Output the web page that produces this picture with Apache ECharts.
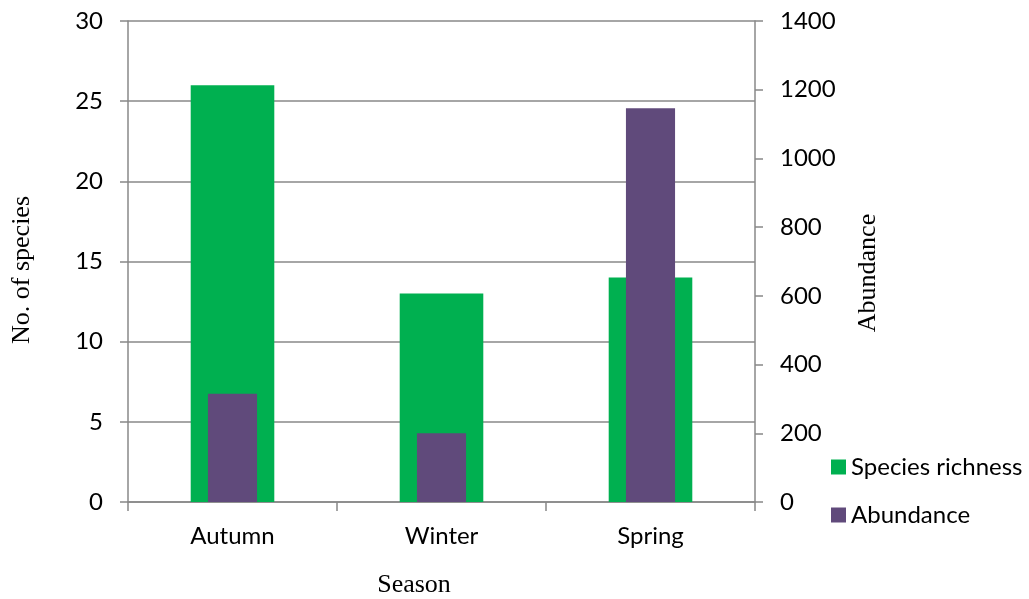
<!DOCTYPE html>
<html>
<head>
<meta charset="utf-8">
<script src="https://cdn.jsdelivr.net/npm/echarts@6/dist/echarts.min.js"></script>
<style>
  html, body { margin: 0; padding: 0; background: #fff; }
  #chart { width: 1029px; height: 599px; }
</style>
</head>
<body>
<div id="chart"></div>
<script>
// Seasonal species richness and abundance
const seasons = ['Autumn', 'Winter', 'Spring'];
const speciesRichness = [26, 13, 14];
const abundance = [315, 200, 1146];

const axisGray = '#888888';
const tickFont = { fontFamily: 'Lato', fontSize: 24, color: '#000' };
const titleFont = 'Liberation Serif';

const chart = echarts.init(document.getElementById('chart'), null, { renderer: 'canvas' });

chart.setOption({
  animation: false,
  backgroundColor: '#fff',
  grid: { left: 128, right: 274, top: 21, bottom: 97, containLabel: false },
  legend: {
    orient: 'vertical',
    left: 831,
    top: 455,
    padding: 0,
    icon: 'rect',
    itemWidth: 15,
    itemHeight: 15,
    itemGap: 24,
    textStyle: { fontFamily: 'Lato', fontSize: 24, color: '#000' },
    data: ['Species richness', 'Abundance']
  },
  xAxis: [
    {
      type: 'category',
      data: seasons,
      axisLine: { lineStyle: { color: axisGray, width: 1.5 } },
      axisTick: { show: true, length: 9, lineStyle: { color: axisGray, width: 1.5 } },
      axisLabel: Object.assign({ margin: 22 }, tickFont),
      splitLine: { show: false }
    },
    {
      type: 'category',
      data: seasons,
      position: 'bottom',
      show: false
    }
  ],
  yAxis: [
    {
      type: 'value',
      min: 0,
      max: 30,
      interval: 5,
      position: 'left',
      axisLine: { show: true, lineStyle: { color: axisGray, width: 1.5 } },
      axisTick: { show: true, length: 8, lineStyle: { color: axisGray, width: 1.5 } },
      axisLabel: Object.assign({ margin: 25 }, tickFont),
      splitLine: { show: true, lineStyle: { color: axisGray, width: 1.5 } }
    },
    {
      type: 'value',
      min: 0,
      max: 1400,
      interval: 200,
      position: 'right',
      axisLine: { show: true, lineStyle: { color: axisGray, width: 1.5 } },
      axisTick: { show: true, length: 8, lineStyle: { color: axisGray, width: 1.5 } },
      axisLabel: Object.assign({ margin: 25, formatter: v => String(v) }, tickFont),
      splitLine: { show: false }
    }
  ],
  series: [
    {
      name: 'Species richness',
      type: 'bar',
      xAxisIndex: 0,
      yAxisIndex: 0,
      barWidth: '40%',
      itemStyle: { color: '#00B050' },
      data: speciesRichness
    },
    {
      name: 'Abundance',
      type: 'bar',
      xAxisIndex: 1,
      yAxisIndex: 1,
      barWidth: '23.5%',
      itemStyle: { color: '#604A7B' },
      data: abundance
    }
  ],
  graphic: [
    {
      type: 'text',
      x: 22, y: 270,
      rotation: Math.PI / 2,
      style: {
        text: 'No. of species',
        font: '26px "' + titleFont + '"',
        fill: '#000',
        align: 'center',
        verticalAlign: 'middle'
      }
    },
    {
      type: 'text',
      x: 868, y: 273,
      rotation: Math.PI / 2,
      style: {
        text: 'Abundance',
        font: '26px "' + titleFont + '"',
        fill: '#000',
        align: 'center',
        verticalAlign: 'middle'
      }
    },
    {
      type: 'text',
      x: 414, y: 585,
      style: {
        text: 'Season',
        font: '26px "' + titleFont + '"',
        fill: '#000',
        align: 'center',
        verticalAlign: 'middle'
      }
    }
  ]
});
</script>
</body>
</html>
